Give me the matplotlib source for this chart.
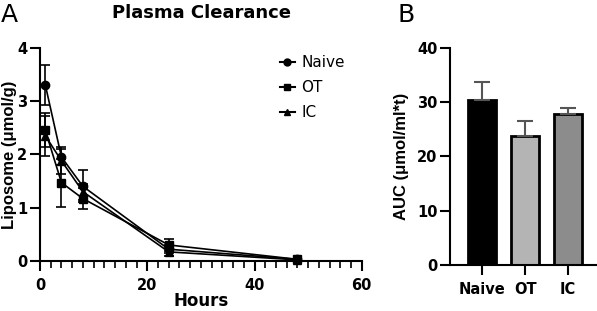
import numpy as np
import matplotlib.pyplot as plt
from matplotlib.ticker import MultipleLocator
from matplotlib.lines import Line2D

plt.rcParams['font.family'] = ['DejaVu Sans']

# plasma clearance data
hours = [1, 4, 8, 24, 48]
naive = [3.30, 1.95, 1.40, 0.22, 0.03]
naive_err = [0.38, 0.15, 0.30, 0.08, 0.01]
ot = [2.45, 1.47, 1.17, 0.30, 0.03]
ot_err = [0.32, 0.45, 0.20, 0.12, 0.01]
ic = [2.35, 1.88, 1.30, 0.17, 0.02]
ic_err = [0.38, 0.25, 0.15, 0.07, 0.01]

# AUC data
groups = ["Naive", "OT", "IC"]
auc = [30.4, 23.7, 27.9]
auc_err = [3.3, 2.9, 1.1]
bar_colors = ["#000000", "#b4b4b4", "#8c8c8c"]

fig = plt.figure(figsize=(5.97, 3.11), dpi=100)

# --- panel A
ax1 = fig.add_axes([0.067, 0.161, 0.539, 0.685])
series = [(naive, naive_err, 'o', "Naive"), (ot, ot_err, 's', "OT"), (ic, ic_err, '^', "IC")]
handles = []
for y, e, m, lab in series:
    ax1.errorbar(hours, y, yerr=e, color='black', marker=m, markersize=6,
                 linewidth=1.2, elinewidth=1.2, capsize=3.5, capthick=1.2, clip_on=False)
    handles.append(Line2D([], [], color='black', marker=m, markersize=5, linewidth=1.5, label=lab))
ax1.set_xlim(0, 60)
ax1.set_ylim(0, 4)
ax1.xaxis.set_major_locator(MultipleLocator(20))
ax1.xaxis.set_minor_locator(MultipleLocator(2))
ax1.yaxis.set_major_locator(MultipleLocator(1))
ax1.spines['top'].set_visible(False)
ax1.spines['right'].set_visible(False)
for s in ['left', 'bottom']:
    ax1.spines[s].set_linewidth(1.5)
ax1.tick_params(which='major', length=7, width=1.5, labelsize=10.5)
ax1.tick_params(which='minor', length=5, width=1.2)
ax1.tick_params(axis='y', pad=2)
ax1.tick_params(axis='x', pad=5)
for t in ax1.get_xticklabels() + ax1.get_yticklabels():
    t.set_fontweight('bold')
ax1.set_xlabel("Hours", fontsize=12, fontweight='bold')
ax1.xaxis.set_label_coords(0.5, -0.145)
ax1.set_ylabel("Liposome (\u03bcmol/g)", fontsize=12, fontweight='bold', family='Liberation Sans')
ax1.yaxis.set_label_coords(-0.07, 0.5)
ax1.legend(handles=handles, loc='upper left', bbox_to_anchor=(0.745, 0.965), frameon=False,
           fontsize=11, handlelength=1.0, handletextpad=0.4, labelspacing=0.65,
           borderpad=0, borderaxespad=0)

fig.text(202 / 597, 1 - 13 / 311, "Plasma Clearance", fontsize=13, fontweight='bold',
         ha='center', va='center')

# --- panel B
ax2 = fig.add_axes([0.754, 0.148, 0.246, 0.698])
x = np.arange(len(groups))
ax2.bar(x, auc, width=0.66, color=bar_colors, edgecolor='black', linewidth=2,
        yerr=[[0] * len(auc), auc_err],
        error_kw=dict(ecolor='#555555', elinewidth=1.5, capsize=6, capthick=1.5))
ax2.set_xlim(-0.74, 2.67)
ax2.set_ylim(0, 40)
ax2.yaxis.set_major_locator(MultipleLocator(10))
ax2.set_xticks(x)
ax2.set_xticklabels(groups)
ax2.spines['top'].set_visible(False)
ax2.spines['right'].set_visible(False)
for s in ['left', 'bottom']:
    ax2.spines[s].set_linewidth(1.5)
ax2.tick_params(length=7, width=1.5, labelsize=10.5)
ax2.tick_params(axis='y', pad=2)
ax2.tick_params(axis='x', pad=5)
for t in ax2.get_xticklabels() + ax2.get_yticklabels():
    t.set_fontweight('bold')
ax2.set_ylabel("AUC (\u03bcmol/ml*t)", fontsize=12, fontweight='bold', family='Liberation Sans')
ax2.yaxis.set_label_coords(-0.28, 0.5)

fig.text(0.002, 1 - 3 / 311, "A", fontsize=18, va='top')
fig.text(398 / 597, 1 - 3 / 311, "B", fontsize=18, va='top')

fig.savefig("out.png", dpi=100)
